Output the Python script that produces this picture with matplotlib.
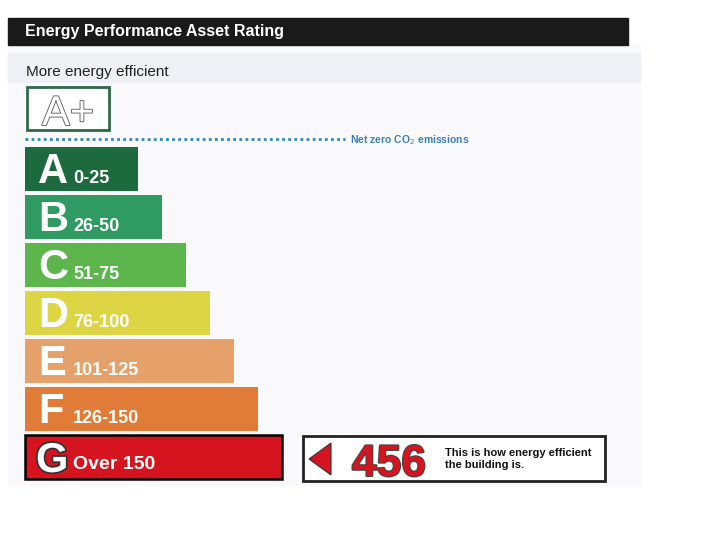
import matplotlib.pyplot as plt
import matplotlib.patheffects as pe
from matplotlib.patches import Rectangle, Polygon

# Ratings data
bands = ['A', 'B', 'C', 'D', 'E', 'F', 'G']
ranges = ['0-25', '26-50', '51-75', '76-100', '101-125', '126-150', 'Over 150']
colors = ['#1d6a3e', '#2f9a62', '#5db64c', '#ddd544', '#e6a16a', '#e07b38', '#d5141f']
rating_value = 456
rating_band = 'G'

plt.rcParams['font.family'] = ['Liberation Sans', 'DejaVu Sans']

fig = plt.figure(figsize=(7.28, 5.33), dpi=100)
ax = fig.add_axes([0, 0, 1, 1])
ax.set_xlim(0, 728)
ax.set_ylim(533, 0)
ax.axis('off')

# faint scan background
ax.add_patch(Rectangle((8, 45), 632, 440, color='#f9f9fb', zorder=0))
ax.add_patch(Rectangle((8, 53), 632, 29, color='#eef0f5', zorder=0))

# Header
ax.add_patch(Rectangle((8, 18), 620, 27, color='#1a1a1a', zorder=1))
ax.text(25, 31.5, 'Energy Performance Asset Rating', color='white', fontsize=11.5,
        fontweight='bold', va='center', ha='left', zorder=2)

ax.text(26, 72, 'More energy efficient', color='#222222', fontsize=11,
        va='center', ha='left')

# A+ box
ax.add_patch(Rectangle((27, 87), 82, 43, facecolor='white', edgecolor='#2d6a46',
                       linewidth=2, zorder=2))
ax.text(68, 125, 'A+', color='white', fontsize=30, ha='center', va='baseline', zorder=3,
        path_effects=[pe.withStroke(linewidth=1.2, foreground='#555555')])

# Net zero line
ax.plot([25, 345], [139, 139], linestyle=(0, (1, 1.2)), color='#2f86c0', linewidth=2)
ax.text(350, 140, 'Net zero CO$_2$ emissions', color='#3a7fb8', fontsize=7.5,
        fontweight='bold', va='center', ha='left')

# Bars
left = 25
bar_h = 44
tops = [147 + 48 * i for i in range(len(bands))]
widths = [113 + 24 * i for i in range(len(bands))]
centers = [t + bar_h / 2 for t in tops]
edges = ['black' if b == rating_band else 'none' for b in bands]
ax.barh(centers, widths, left=left, height=bar_h, color=colors, edgecolor=edges,
        linewidth=1.8, zorder=2)

for band, rng, top in zip(bands, ranges, tops):
    if band == rating_band:
        ax.text(left + 11, top + 37, band, color='white', fontsize=30,
                fontweight='bold', ha='left', va='baseline', zorder=3,
                path_effects=[pe.withStroke(linewidth=2.5, foreground='#333333')])
        ax.text(left + 48, top + 34, rng, color='white', fontsize=14,
                fontweight='bold', ha='left', va='baseline', zorder=3)
    else:
        ax.text(left + 13, top + 36, band, color='white', fontsize=30,
                fontweight='bold', ha='left', va='baseline', zorder=3)
        ax.text(left + 48, top + 36, rng, color='white', fontsize=13,
                fontweight='bold', ha='left', va='baseline', zorder=3)

# Rating indicator box
g_top = tops[bands.index(rating_band)]
ax.add_patch(Rectangle((303, g_top + 1), 302, 45, facecolor='white', edgecolor='#222222',
                       linewidth=2, zorder=2))
ax.add_patch(Polygon([[309, g_top + 24], [331, g_top + 8], [331, g_top + 40]],
                     closed=True, facecolor='#d5141f', edgecolor='#333333',
                     linewidth=0.8, zorder=3))
ax.text(389, g_top + 41, str(rating_value), color='#d5141f', fontsize=32,
        fontweight='bold', ha='center', va='baseline', zorder=3,
        path_effects=[pe.withStroke(linewidth=1.5, foreground='#444444')])
ax.text(445, g_top + 24, 'This is how energy efficient\nthe building is.', color='#111111',
        fontsize=8, fontweight='bold', ha='left', va='center', linespacing=1.35, zorder=3)

fig.savefig('out.png', dpi=100, facecolor='white')
